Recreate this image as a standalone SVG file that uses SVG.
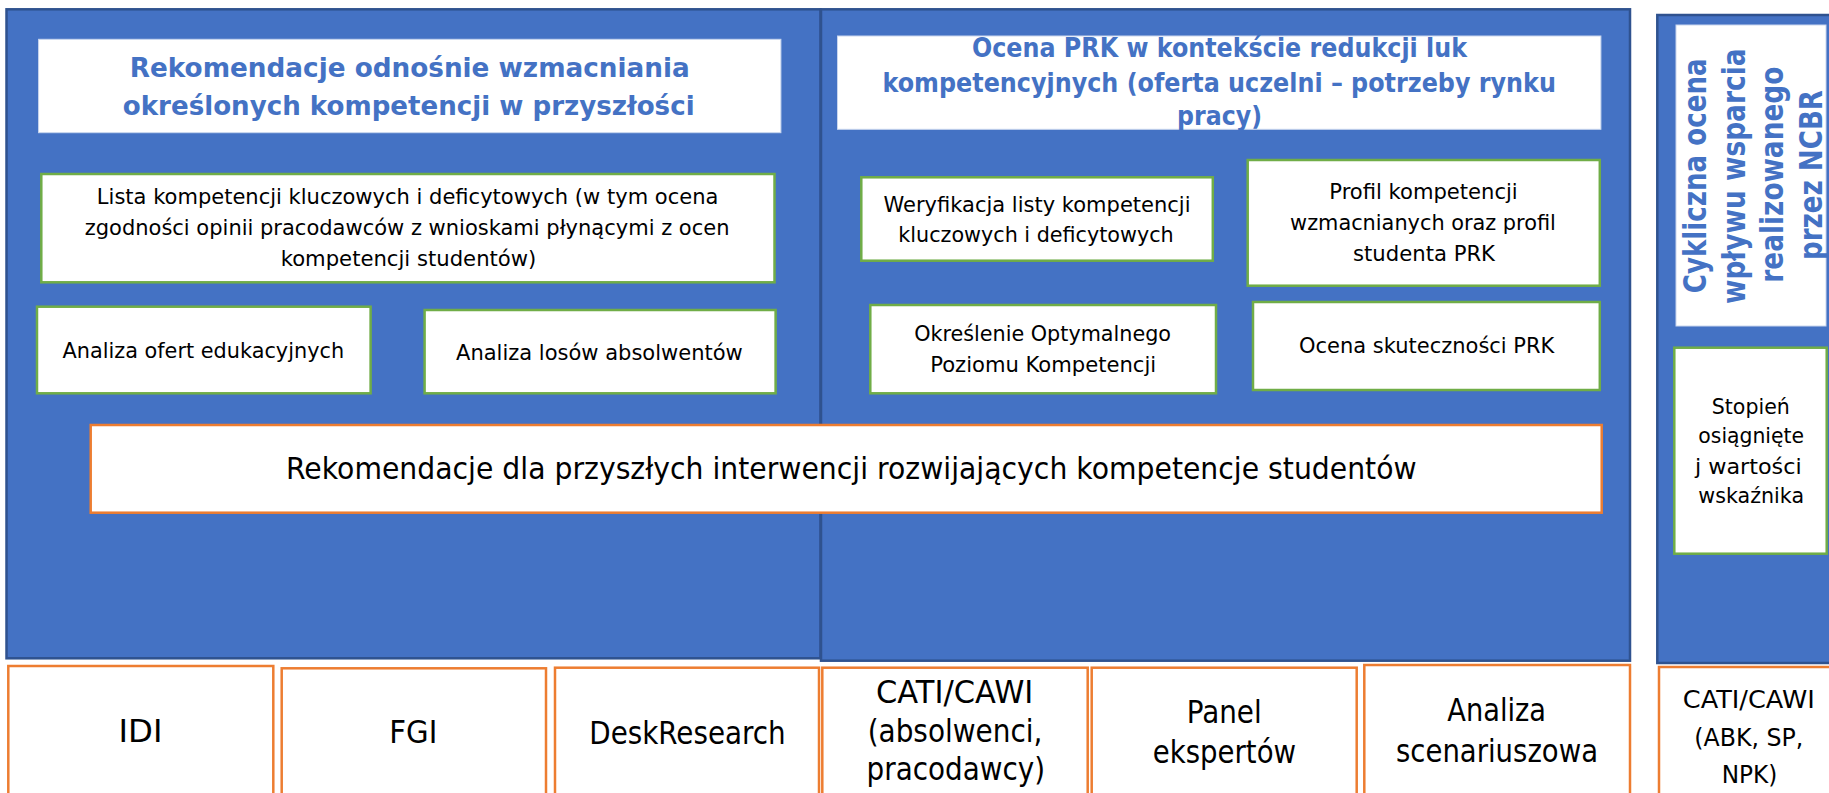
<svg xmlns="http://www.w3.org/2000/svg" width="1829" height="793" viewBox="0 0 1829 793">
<style>
.panel{fill:#4472C4;stroke:#2F528F;stroke-width:2.5}
.title{fill:#FFFFFF;stroke:#C9D6EE;stroke-width:1}
.g{fill:#FFFFFF;stroke:#70AD47;stroke-width:2.5}
.o{fill:#FFFFFF;stroke:#ED7D31;stroke-width:2.5}
text{font-family:"DejaVu Sans","Liberation Sans",sans-serif;fill:#000;text-anchor:middle}
.tb{font-weight:bold;fill:#4472C4;font-size:27px}
.tv{font-weight:bold;fill:#4472C4;font-size:32px}
.s{font-size:21.5px}
.m{font-size:25px}
.l{font-size:31px}
.xl{font-size:32px}
</style>
<rect width="1829" height="793" fill="#FFFFFF"/>

<g id="panel-left">
<rect class="panel" x="6.5" y="9.3" width="814" height="649"/>
</g>
<g id="panel-mid">
<rect class="panel" x="821" y="9.3" width="809" height="651.4"/>
</g>
<g id="panel-right">
<rect class="panel" x="1657.3" y="15" width="180" height="648"/>
</g>

<g id="title-left">
<rect class="title" x="38.6" y="39.3" width="742.3" height="93.4"/>
<text class="tb" x="409.75" y="76.7" textLength="560" lengthAdjust="spacingAndGlyphs">Rekomendacje odnośnie wzmacniania</text>
<text class="tb" x="408.7" y="115" textLength="571.8" lengthAdjust="spacingAndGlyphs">określonych kompetencji w przyszłości</text>
</g>

<g id="lista">
<rect class="g" x="41.3" y="174" width="733.2" height="108.3"/>
<text class="s" x="407.6" y="204" textLength="621.5" lengthAdjust="spacingAndGlyphs">Lista kompetencji kluczowych i deficytowych (w tym ocena</text>
<text class="s" x="407.1" y="235" textLength="644.8" lengthAdjust="spacingAndGlyphs">zgodności opinii pracodawców z wnioskami płynącymi z ocen</text>
<text class="s" x="408.5" y="266" textLength="255.7" lengthAdjust="spacingAndGlyphs">kompetencji studentów)</text>
</g>

<g id="analiza-ofert">
<rect class="g" x="37" y="306.7" width="333.6" height="86.6"/>
<text class="s" x="203.3" y="358" textLength="281.6" lengthAdjust="spacingAndGlyphs">Analiza ofert edukacyjnych</text>
</g>

<g id="analiza-losow">
<rect class="g" x="424.6" y="310" width="351" height="83.3"/>
<text class="s" x="599.4" y="360" textLength="286.7" lengthAdjust="spacingAndGlyphs">Analiza losów absolwentów</text>
</g>

<g id="title-mid">
<rect class="title" x="837.5" y="36" width="763.4" height="93.3"/>
<text class="tb" x="1219.5" y="57" textLength="495" lengthAdjust="spacingAndGlyphs">Ocena PRK w kontekście redukcji luk</text>
<text class="tb" x="1219.2" y="91.7" textLength="673.4" lengthAdjust="spacingAndGlyphs">kompetencyjnych (oferta uczelni – potrzeby rynku</text>
<text class="tb" x="1219.5" y="125" textLength="85" lengthAdjust="spacingAndGlyphs">pracy)</text>
</g>

<g id="weryfikacja">
<rect class="g" x="861.3" y="177.3" width="351.5" height="83.4"/>
<text class="s" x="1037" y="211.7" textLength="307" lengthAdjust="spacingAndGlyphs">Weryfikacja listy kompetencji</text>
<text class="s" x="1036" y="242.3" textLength="275.3" lengthAdjust="spacingAndGlyphs">kluczowych i deficytowych</text>
</g>

<g id="profil">
<rect class="g" x="1247.7" y="160" width="352.1" height="125.7"/>
<text class="s" x="1423.5" y="199.3" textLength="188.4" lengthAdjust="spacingAndGlyphs">Profil kompetencji</text>
<text class="s" x="1423" y="230" textLength="265.8" lengthAdjust="spacingAndGlyphs">wzmacnianych oraz profil</text>
<text class="s" x="1424" y="261" textLength="142" lengthAdjust="spacingAndGlyphs">studenta PRK</text>
</g>

<g id="okreslenie">
<rect class="g" x="870.3" y="305" width="345.7" height="88.3"/>
<text class="s" x="1042.6" y="340.7" textLength="256.8" lengthAdjust="spacingAndGlyphs">Określenie Optymalnego</text>
<text class="s" x="1043.2" y="371.7" textLength="226" lengthAdjust="spacingAndGlyphs">Poziomu Kompetencji</text>
</g>

<g id="ocena-skutecznosci">
<rect class="g" x="1253" y="302" width="346.8" height="88"/>
<text class="s" x="1426.7" y="353.3" textLength="255.3" lengthAdjust="spacingAndGlyphs">Ocena skuteczności PRK</text>
</g>

<g id="rekomendacje-banner">
<rect class="o" x="90.7" y="425" width="1511" height="87.7"/>
<text class="l" x="851.3" y="479.3" textLength="1130.7" lengthAdjust="spacingAndGlyphs">Rekomendacje dla przyszłych interwencji rozwijających kompetencje studentów</text>
</g>

<g id="title-right">
<rect class="title" x="1676" y="25" width="150" height="301"/>
<text class="tv" transform="translate(1706,175.8) rotate(-90)" textLength="235" lengthAdjust="spacingAndGlyphs">Cykliczna ocena</text>
<text class="tv" transform="translate(1744.6,176.2) rotate(-90)" textLength="255.7" lengthAdjust="spacingAndGlyphs">wpływu wsparcia</text>
<text class="tv" transform="translate(1783.2,174.7) rotate(-90)" textLength="216" lengthAdjust="spacingAndGlyphs">realizowanego</text>
<text class="tv" transform="translate(1821.7,175) rotate(-90)" textLength="170" lengthAdjust="spacingAndGlyphs">przez NCBR</text>
</g>

<g id="stopien">
<rect class="g" x="1674.3" y="347.7" width="152.4" height="206"/>
<text class="s" x="1750.8" y="413.7" textLength="78" lengthAdjust="spacingAndGlyphs">Stopień</text>
<text class="s" x="1751.2" y="443" textLength="105.7" lengthAdjust="spacingAndGlyphs">osiągnięte</text>
<text class="s" x="1748.3" y="474" textLength="106.7" lengthAdjust="spacingAndGlyphs">j wartości</text>
<text class="s" x="1751.2" y="503" textLength="105.7" lengthAdjust="spacingAndGlyphs">wskaźnika</text>
</g>

<g id="idi">
<rect class="o" x="8.3" y="666" width="265" height="140"/>
<text class="xl" x="140.5" y="741.7" textLength="44" lengthAdjust="spacingAndGlyphs">IDI</text>
</g>
<g id="fgi">
<rect class="o" x="281.7" y="668.3" width="264.3" height="140"/>
<text class="xl" x="413.3" y="743.3" textLength="48" lengthAdjust="spacingAndGlyphs">FGI</text>
</g>
<g id="deskresearch">
<rect class="o" x="555" y="667.7" width="264" height="140"/>
<text class="xl" x="687.5" y="744" textLength="196.4" lengthAdjust="spacingAndGlyphs">DeskResearch</text>
</g>
<g id="cati-cawi">
<rect class="o" x="822.3" y="667.7" width="265.4" height="140"/>
<text class="xl" x="954.7" y="703.3" textLength="157.3" lengthAdjust="spacingAndGlyphs">CATI/CAWI</text>
<text class="xl" x="955" y="741.7" textLength="174.7" lengthAdjust="spacingAndGlyphs">(absolwenci,</text>
<text class="xl" x="955.8" y="780" textLength="178.4" lengthAdjust="spacingAndGlyphs">pracodawcy)</text>
</g>
<g id="panel-ekspertow">
<rect class="o" x="1091.7" y="667.7" width="265" height="140"/>
<text class="xl" x="1224.2" y="722.7" textLength="75" lengthAdjust="spacingAndGlyphs">Panel</text>
<text class="xl" x="1224.4" y="763.3" textLength="143.3" lengthAdjust="spacingAndGlyphs">ekspertów</text>
</g>
<g id="analiza-scenariuszowa">
<rect class="o" x="1364.3" y="665" width="265.7" height="140"/>
<text class="xl" x="1496.7" y="721" textLength="98.7" lengthAdjust="spacingAndGlyphs">Analiza</text>
<text class="xl" x="1497" y="761.7" textLength="202" lengthAdjust="spacingAndGlyphs">scenariuszowa</text>
</g>
<g id="cati-cawi-right">
<rect class="o" x="1659" y="667" width="180" height="140"/>
<text class="m" x="1748.8" y="708" textLength="132" lengthAdjust="spacingAndGlyphs">CATI/CAWI</text>
<text class="m" x="1748.8" y="746" textLength="109" lengthAdjust="spacingAndGlyphs">(ABK, SP,</text>
<text class="m" x="1749.5" y="783" textLength="55.6" lengthAdjust="spacingAndGlyphs">NPK)</text>
</g>

<g id="connectors"></g>
</svg>
